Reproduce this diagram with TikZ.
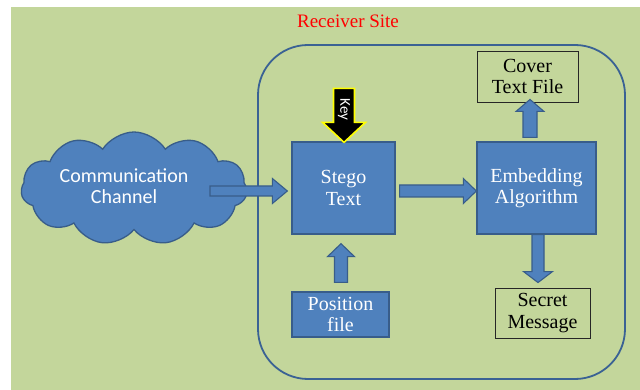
\documentclass[tikz,border=0pt]{standalone}
\usepackage{fontspec}
\setmainfont{Liberation Serif}
\newfontfamily\calfont{Carlito}
\usetikzlibrary{shapes.symbols,calc}
\definecolor{bggreen}{RGB}{195,214,155}
\definecolor{boxblue}{RGB}{79,129,189}
\definecolor{boxedge}{RGB}{56,93,138}
\definecolor{siteedge}{RGB}{58,98,148}
\definecolor{keyyellow}{RGB}{255,255,0}
% #1 style, #2 start, #3 tip, #4 shaft half width, #5 head half width, #6 head length
\newcommand\blockarrow[6]{%
  \coordinate (ba-s) at #2;
  \coordinate (ba-t) at #3;
  \coordinate (ba-h) at ($(ba-t)!#6!(ba-s)$);
  \draw[#1] ($(ba-s)!#4!90:(ba-t)$) -- ($(ba-h)!#4!-90:(ba-s)$) -- ($(ba-h)!#5!-90:(ba-s)$)
    -- (ba-t) -- ($(ba-h)!#5!90:(ba-s)$) -- ($(ba-h)!#4!90:(ba-s)$) -- ($(ba-s)!#4!-90:(ba-t)$) -- cycle;}
\begin{document}
\begin{tikzpicture}[x=1pt,y=-1pt,
  serif text/.style={font=\fontsize{20}{21.5}\selectfont, align=center},
  bluebox/.style={fill=boxblue, draw=boxedge, line width=1.3pt, serif text, text=white, inner sep=0pt},
  plainbox/.style={draw=black!85, line width=0.9pt, serif text, text=black, inner sep=0pt},
  barr/.style={fill=boxblue, draw=boxedge, line width=1.1pt, line join=miter},
  karr/.style={fill=black, draw=keyyellow, line width=1.6pt, line join=miter}]
\useasboundingbox (0,0) rectangle (640,390);
\fill[bggreen] (11,7) rectangle (640,390);
\node[text=red, font=\fontsize{19}{21}\selectfont] (title) at (348,21) {Receiver Site};
\node[draw=siteedge, line width=1.8pt, rounded corners=50pt, minimum width=367pt, minimum height=334pt, inner sep=0pt] (site) at (441.5,212) {};
\node[cloud, cloud puffs=11, cloud puff arc=115, cloud ignores aspect, aspect=2,
  minimum width=226pt, minimum height=113pt, inner sep=0pt,
  fill=boxblue, draw=boxedge, line width=1.3pt] (cloud) at (134,188.5) {};
\node[text=white, font=\calfont\fontsize{20}{21}\selectfont, align=center] (cloudtxt) at (124,186) {Communication\\Channel};
\node[bluebox, minimum width=103pt, minimum height=92pt] (stego) at (343.5,188) {Stego\\Text};
\node[bluebox, minimum width=119pt, minimum height=92pt] (embed) at (536.5,188) {Embedding\\Algorithm};
\node[plainbox, minimum width=101pt, minimum height=51pt] (cover) at (527.5,76.5) {Cover\\Text File};
\node[plainbox, minimum width=95pt, minimum height=50pt] (secret) at (542.5,313) {Secret\\Message};
\node[bluebox, minimum width=97pt, minimum height=45pt] (position) at (340.5,314.5) {Position\\file};
% arrows
\blockarrow{barr}{($(stego.center)+(-133.5,3)$)}{($(stego.west)+(-4,3)$)}{5pt}{12.5pt}{15pt}
\blockarrow{barr}{($(stego.east)+(4,3)$)}{($(embed.west)+(0,3)$)}{6pt}{12.5pt}{13pt}
\blockarrow{barr}{($(embed.north)+(-6.5,-4)$)}{($(cover.south)+(2.5,-3)$)}{7pt}{14pt}{12pt}
\blockarrow{barr}{($(embed.south)+(1.5,0)$)}{($(secret.north)+(-4.5,-5)$)}{6pt}{14.5pt}{11pt}
\blockarrow{barr}{($(position.north)+(0.5,-9)$)}{($(stego.south)+(-2.5,9)$)}{6.5pt}{13.5pt}{13pt}
\blockarrow{karr}{($(stego.north)+(0.5,-53)$)}{($(stego.north)+(0.5,1)$)}{10.5pt}{21.5pt}{20pt}
\node[rotate=-90, text=white, font=\calfont\fontsize{15}{15}\selectfont, inner sep=0pt] (keytxt) at ($(stego.north)+(0.5,-32)$) {Key};
\end{tikzpicture}
\end{document}
